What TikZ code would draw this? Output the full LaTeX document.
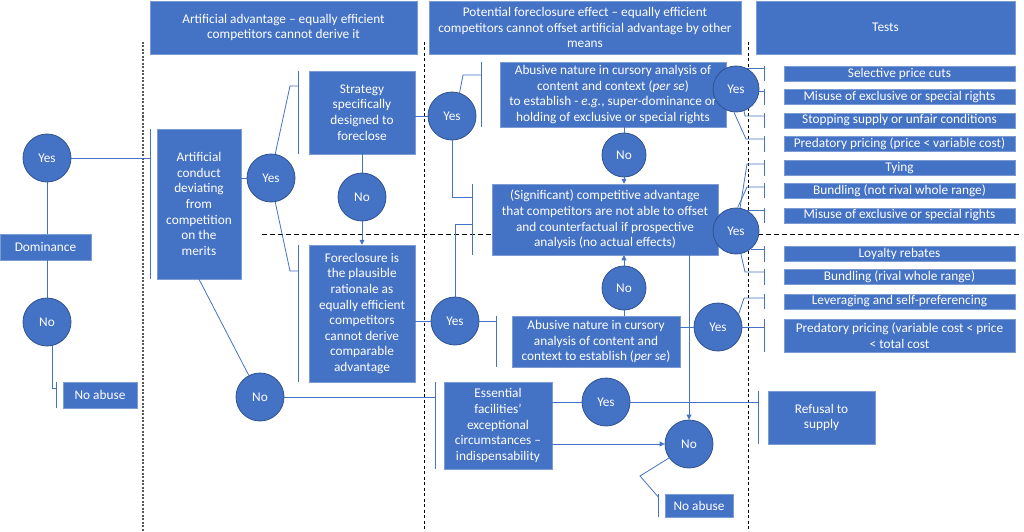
\documentclass[tikz,border=0pt]{standalone}
\usepackage{fontspec}
\setmainfont{Carlito}
\usetikzlibrary{arrows.meta}
\definecolor{boxblue}{HTML}{4472C4}
\definecolor{boxedge}{HTML}{2F528F}
\newcommand{\barfor}[2]{%
  \coordinate (#1bar) at ([xshift=-#2]#1.west);
  \draw[conn] ([xshift=-#2]#1.north west) -- ([xshift=-#2]#1.south west);}
\begin{document}
\begin{tikzpicture}[x=1pt, y=-1pt,
  box/.style={rectangle, fill=boxblue, draw=boxblue!70!white, line width=0.5pt,
    text=white, align=center, inner sep=0pt,
    font=\fontsize{13.3pt}{15.6pt}\selectfont},
  test/.style={box, minimum width=231pt, minimum height=15pt},
  choice/.style={circle, fill=boxblue, draw=boxedge, line width=0.8pt,
    text=white, inner sep=0pt, minimum size=48pt,
    font=\fontsize{13.3pt}{15.6pt}\selectfont},
  small/.style={choice, minimum size=44pt},
  conn/.style={draw=boxblue, line width=0.8pt},
  arr/.style={conn, -{Triangle[length=5pt,width=5pt]}},
  colline/.style={black!65, line width=1.5pt, dash pattern=on 2pt off 1.5pt},
  sepline/.style={black, line width=0.9pt, dash pattern=on 3pt off 2.5pt},
  rowline/.style={black, line width=0.9pt, dash pattern=on 5pt off 3pt}]
  \useasboundingbox (0,0) rectangle (1024,532);

  \draw[colline] (143,42) -- (143,532);
  \draw[sepline] (424,42) -- (424,532);
  \draw[sepline] (748,42) -- (748,532);
  \draw[rowline] (262,234) -- (1022,234);

  \node[box, minimum width=267pt, minimum height=53pt]
  (hdA) at (283.5,27.5) {Artificial advantage – equally efficient\\competitors cannot derive it};
  \node[box, minimum width=312pt, minimum height=53pt]
  (hdB) at (585,27.5) {Potential foreclosure effect – equally efficient\\competitors cannot offset artificial advantage by other\\means};
  \node[box, minimum width=259pt, minimum height=53pt]
  (hdC) at (885.5,27.5) {Tests};

  \node[box, minimum width=91pt, minimum height=26pt]
  (dom) at (45.5,247) {Dominance};
  \node[box, minimum width=74pt, minimum height=26pt]
  (noab1) at (100,395) {No abuse};
  \node[box, minimum width=84pt, minimum height=150pt]
  (artf) at (199,204) {Artificial\\conduct\\deviating\\from\\competition\\on the\\merits};
  \node[box, minimum width=106pt, minimum height=83pt]
  (strat) at (362,112.5) {Strategy\\specifically\\designed to\\foreclose};
  \node[box, minimum width=106pt, minimum height=137pt]
  (forec) at (362,313.5) {Foreclosure is\\the plausible\\rationale as\\equally efficient\\competitors\\cannot derive\\comparable\\advantage};
  \node[box, minimum width=226pt, minimum height=65pt]
  (abus1) at (613,94.5) {Abusive nature in cursory analysis of\\content and context (\textit{per se})\\to establish - \textit{e.g.}, super-dominance or\\holding of exclusive or special rights};
  \node[box, minimum width=226pt, minimum height=71pt]
  (sig) at (605,219.5) {(Significant) competitive advantage\\that competitors are not able to offset\\and counterfactual if prospective\\analysis (no actual effects)};
  \node[box, minimum width=168pt, minimum height=51pt]
  (abus2) at (596,341.5) {Abusive nature in cursory\\analysis of content and\\context to establish (\textit{per se})};
  \node[box, minimum width=108pt, minimum height=87pt]
  (ess) at (498,425.5) {Essential\\facilities’\\exceptional\\circumstances –\\indispensability};
  \node[box, minimum width=107pt, minimum height=53pt]
  (refus) at (821.5,417.5) {Refusal to\\supply};
  \node[box, minimum width=68pt, minimum height=23pt]
  (noab2) at (699,505.5) {No abuse};

  \node[test] (t1) at (899.5,73.5) {Selective price cuts};
  \node[test] (t2) at (899.5,97) {Misuse of exclusive or special rights};
  \node[test] (t3) at (899.5,120.5) {Stopping supply or unfair conditions};
  \node[test] (t4) at (899.5,144) {Predatory pricing (price < variable cost)};
  \node[test] (t5) at (899.5,168) {Tying};
  \node[test] (t6) at (899.5,190.5) {Bundling (not rival whole range)};
  \node[test] (t7) at (899.5,215.5) {Misuse of exclusive or special rights};
  \node[test] (t8) at (899.5,254) {Loyalty rebates};
  \node[test] (t9) at (899.5,277) {Bundling (rival whole range)};
  \node[test] (t10) at (899.5,301.5) {Leveraging and self-preferencing};
  \node[test, minimum height=33pt]
  (t11) at (899.5,335.5) {Predatory pricing (variable cost < price\\< total cost};

  \node[choice] (yesL) at (47,158) {Yes};
  \node[choice] (noL) at (47,322) {No};
  \node[choice] (yes2) at (271,178) {Yes};
  \node[choice] (no2) at (362,197) {No};
  \node[choice] (no3) at (260,397) {No};
  \node[choice] (yesA) at (452,116) {Yes};
  \node[choice] (yesB) at (455,321) {Yes};
  \node[small] (no4) at (624,155) {No};
  \node[small] (no5) at (624,288) {No};
  \node[choice] (yesC) at (718,327) {Yes};
  \node[small, minimum size=46pt] (yesD) at (736,89) {Yes};
  \node[small, minimum size=46pt] (yesE) at (736,231) {Yes};
  \node[choice] (yesF) at (606,402) {Yes};
  \node[choice] (noG) at (689,444) {No};

  \draw[conn] (yesL) -- (yesL |- dom.north);
  \draw[conn] (noL |- dom.south) -- (noL);
  \barfor{noab1}{6pt}
  \draw[conn] (noL.-78) |- ([yshift=7pt]noab1bar);
  \barfor{artf}{6pt}
  \draw[conn] (yesL) -- (yesL -| artfbar);
  \draw[conn] (yes2.west -| artf.east) -- (yes2);

  \barfor{strat}{10pt}
  \coordinate (k1) at (290,86);
  \draw[conn] (yes2.80) -- (k1) -- (k1 -| stratbar);
  \barfor{forec}{10pt}
  \coordinate (k2) at (290,271);
  \draw[conn] (yes2.-80) -- (k2) -- (k2 -| forecbar);
  \draw[conn] (strat) -- (no2);
  \draw[arr] (no2) -- (forec);
  \draw[conn] (artf.south) -- (no3);
  \barfor{ess}{8pt}
  \draw[conn] (no3) -- (no3 -| essbar);
  \draw[conn] (yesF.west -| ess.east) -- (yesF);
  \barfor{refus}{9pt}
  \draw[conn] (yesF) -- (yesF -| refusbar);
  \draw[arr] (noG -| ess.east) -- (noG);
  \barfor{noab2}{6pt}
  \coordinate (k3) at (640,476);
  \draw[conn] (noG.-145) -- (k3) -- ([yshift=8pt]noab2bar);
  \draw[arr] (sig.south -| noG) -- (noG);

  \draw[conn] (yesA -| strat.east) -- (yesA);
  \barfor{abus1}{18pt}
  \coordinate (k4) at (463,75);
  \draw[conn] (yesA.72) -- (k4) -- (k4 -| abus1bar);
  \barfor{sig}{19pt}
  \coordinate (k5) at (452,197);
  \draw[conn] (yesA) -- (k5) -- (k5 -| sigbar);
  \draw[conn] (yesB.west -| forec.east) -- (yesB);
  \coordinate (k6) at (455,224);
  \draw[conn] (yesB) -- (k6) -- (k6 -| sigbar);
  \barfor{abus2}{15pt}
  \draw[conn] (yesB) -- (yesB -| abus2bar);
  \draw[conn] (abus1.south -| no4) -- (no4);
  \draw[arr] (no4) -- (no4 |- sig.north);
  \draw[conn] (abus2.north -| no5) -- (no5);
  \draw[arr] (no5) -- (no5 |- sig.south);
  \draw[conn] (yesC.west -| abus2.east) -- (yesC);

  \barfor{t1}{19pt}
  \barfor{t2}{19pt}
  \barfor{t3}{19pt}
  \barfor{t4}{19pt}
  \barfor{t5}{19pt}
  \barfor{t6}{19pt}
  \barfor{t7}{19pt}
  \barfor{t8}{19pt}
  \barfor{t9}{19pt}
  \barfor{t10}{19pt}
  \barfor{t11}{19pt}
  \draw[conn] (yesD.61) -- (yesD.61 -| t1bar);
  \draw[conn] (yesD.-7) -- (yesD.-7 -| t2bar);
  \coordinate (k7) at (745,116);
  \draw[conn] (yesD.-70) -- (k7) -- (k7 -| t3bar);
  \coordinate (k8) at (746,139);
  \draw[conn] (yesD.-95) -- (k8) -- (k8 -| t4bar);
  \coordinate (k9) at (747,164);
  \draw[conn] (yesE.80) -- (k9) -- (k9 -| t5bar);
  \coordinate (k10) at (747,187);
  \draw[conn] (yesE.86) -- (k10) -- (k10 -| t6bar);
  \draw[conn] (yesE.61) -- (yesE.61 -| t7bar);
  \draw[conn] (yesE.-51) -- (yesE.-51 -| t8bar);
  \coordinate (k11) at (745,272);
  \draw[conn] (yesE.-78) -- (k11) -- (k11 -| t9bar);
  \coordinate (k12) at (744,298);
  \draw[conn] (yesC.32) -- (k12) -- (k12 -| t10bar);
  \draw[conn] (yesC) -- (yesC -| t11bar);
\end{tikzpicture}
\end{document}
